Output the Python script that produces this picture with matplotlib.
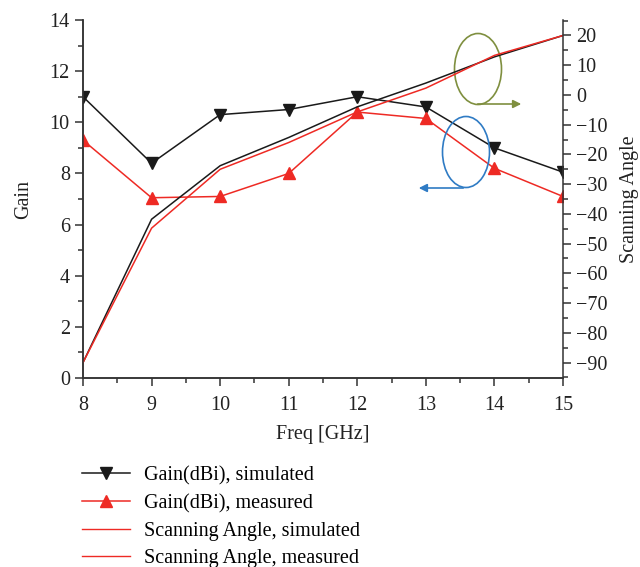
import matplotlib
matplotlib.use('Agg')
import matplotlib.pyplot as plt
from matplotlib.lines import Line2D
from matplotlib.patches import Ellipse

plt.rcParams['font.family'] = ['Liberation Serif', 'DejaVu Serif']
plt.rcParams['font.size'] = 14

freq = [8, 9, 10, 11, 12, 13, 14, 15]
gain_sim = [11.0, 8.4, 10.3, 10.5, 11.0, 10.6, 9.0, 8.05]
gain_meas = [9.3, 7.05, 7.1, 8.0, 10.4, 10.15, 8.2, 7.1]
angle_sim = [-90, -41.8, -23.8, -14.3, -4.0, 4.0, 12.8, 20.0]
angle_meas = [-90, -44.8, -25.0, -16.0, -5.7, 2.3, 13.3, 20.0]

fig = plt.figure(figsize=(6.4, 5.67), dpi=100)
ax = fig.add_axes([0.1297, 0.3333, 0.75, 0.6314])
ax2 = ax.twinx()

ax.plot(freq, gain_sim, color='#1a1a1a', lw=1.1, marker='v', ms=9, zorder=5)
ax.plot(freq, gain_meas, color='#ee2a24', lw=1.1, marker='^', ms=9, zorder=5)
ax2.plot(freq, angle_sim, color='#1a1a1a', lw=1.1)
ax2.plot(freq, angle_meas, color='#ee2a24', lw=1.1)

ax.set_xlim(8, 15)
ax.set_ylim(0, 14)
ax2.set_ylim(-95.2, 25.2)
ax.set_xticks(range(8, 16))
ax.set_xticks([x + 0.5 for x in range(8, 15)], minor=True)
ax.set_yticks(range(0, 15, 2))
ax.set_yticks(range(1, 14, 2), minor=True)
ax2.set_yticks(range(-90, 21, 10))
ax2.set_yticks(range(-95, 26, 5), minor=True)
ax2.set_yticklabels([str(v).replace('-', '\u2212') for v in range(-90, 21, 10)])

for a in (ax, ax2):
    a.spines['top'].set_visible(False)
    for s in a.spines.values():
        s.set_color('#333333')
        s.set_linewidth(1.1)
    a.tick_params(which='major', direction='out', length=6, width=1.1, colors='#333333',
                  labelcolor='#222222', labelsize=14.5)
    a.tick_params(which='minor', direction='out', length=3.5, width=1.1, colors='#333333')
ax.spines['right'].set_visible(False)
ax.tick_params(axis='x', which='major', pad=7)

ax.set_xlabel('Freq [GHz]', fontsize=14.5, color='#222222', labelpad=7)
ax.set_ylabel('Gain', fontsize=14.5, color='#222222', labelpad=12)
ax2.set_ylabel('Scanning Angle', fontsize=14.5, color='#222222', labelpad=9)

# annotation ellipses with arrows (pixel positions converted to data)
def px_to_data(px, py):
    inv = ax.transData.inverted()
    return inv.transform((px, 567 - py))

fig.canvas.draw()
c1 = px_to_data(478, 69)
c2 = px_to_data(466, 152)
w = 47 / (480 / 7)
h = 71 / (358 / 14)
ax.add_patch(Ellipse(c1, w, h, fill=False, edgecolor='#7f8f3f', lw=1.2, zorder=6))
ax.add_patch(Ellipse(c2, w, h, fill=False, edgecolor='#2f7bc4', lw=1.2, zorder=6))
a0 = px_to_data(475, 104)
a1 = px_to_data(524, 104)
ax.annotate('', xy=a1, xytext=a0,
            arrowprops=dict(arrowstyle='-|>', color='#7f8f3f', lw=1.2, mutation_scale=12))
b0 = px_to_data(466, 188)
b1 = px_to_data(416, 188)
ax.annotate('', xy=b1, xytext=b0,
            arrowprops=dict(arrowstyle='-|>', color='#2f7bc4', lw=1.2, mutation_scale=12))

handles = [
    Line2D([], [], color='#1a1a1a', lw=1.1, marker='v', ms=9),
    Line2D([], [], color='#ee2a24', lw=1.1, marker='^', ms=9),
    Line2D([], [], color='#ee2a24', lw=1.0),
    Line2D([], [], color='#ee2a24', lw=1.0),
]
labels = ['Gain(dBi), simulated', 'Gain(dBi), measured',
          'Scanning Angle, simulated', 'Scanning Angle, measured']
fig.legend(handles, labels, loc='upper left', bbox_to_anchor=(0.115, 0.192),
           frameon=False, fontsize=14.5, handlelength=2.4, handletextpad=0.7,
           labelspacing=0.42, borderaxespad=0)

fig.savefig('out.png', dpi=100)
